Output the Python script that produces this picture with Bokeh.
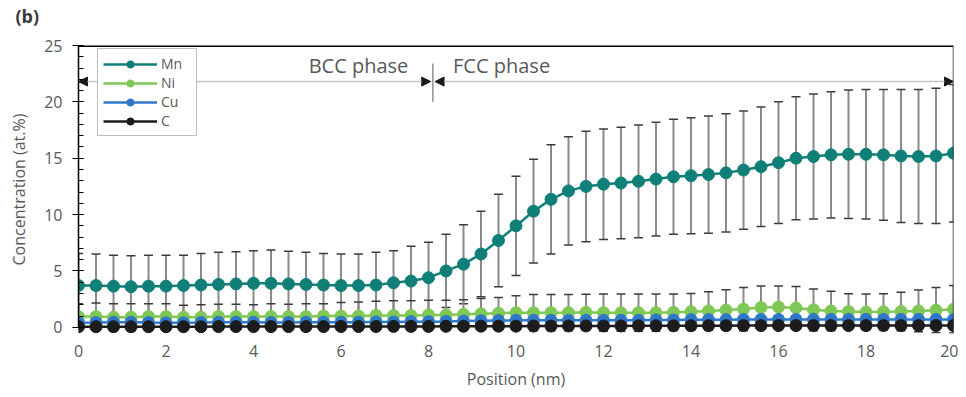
from bokeh.plotting import figure
from bokeh.models import (ColumnDataSource, Whisker, TeeHead, Span, Label, Arrow, Title,
                          NormalHead, Legend, LegendItem, FixedTicker, Range1d)
from bokeh.embed import file_html
from bokeh.resources import INLINE

# ---------------- data ----------------
position = [0.0, 0.4, 0.8, 1.2, 1.6, 2.0, 2.4, 2.8, 3.2, 3.6, 4.0, 4.4, 4.8, 5.2, 5.6,
            6.0, 6.4, 6.8, 7.2, 7.6, 8.0, 8.4, 8.8, 9.2, 9.6, 10.0, 10.4, 10.8, 11.2,
            11.6, 12.0, 12.4, 12.8, 13.2, 13.6, 14.0, 14.4, 14.8, 15.2, 15.6, 16.0,
            16.4, 16.8, 17.2, 17.6, 18.0, 18.4, 18.8, 19.2, 19.6, 20.0]

mn = [3.70, 3.70, 3.65, 3.60, 3.65, 3.65, 3.70, 3.75, 3.80, 3.85, 3.90, 3.90, 3.85, 3.80, 3.75,
      3.70, 3.70, 3.75, 3.95, 4.10, 4.40, 5.00, 5.60, 6.50, 7.70, 9.00, 10.30, 11.35, 12.10,
      12.50, 12.70, 12.80, 12.95, 13.15, 13.35, 13.45, 13.55, 13.70, 13.95, 14.25, 14.60,
      15.00, 15.15, 15.30, 15.35, 15.35, 15.30, 15.20, 15.15, 15.20, 15.45]
mn_err = [2.85, 2.80, 2.75, 2.75, 2.75, 2.75, 2.70, 2.80, 2.85, 2.85, 2.90, 2.95, 2.90, 2.85, 2.80,
          2.80, 2.80, 2.90, 2.85, 3.10, 3.15, 3.25, 3.50, 3.80, 4.10, 4.40, 4.60, 4.85, 4.80,
          4.90, 4.90, 4.95, 5.00, 5.05, 5.10, 5.15, 5.20, 5.25, 5.25, 5.30, 5.40,
          5.45, 5.55, 5.60, 5.70, 5.75, 5.80, 5.90, 5.95, 6.00, 6.10]

ni = [0.95, 0.95, 0.90, 0.90, 0.95, 0.95, 0.90, 0.90, 0.95, 0.95, 0.95, 0.95, 0.95, 0.95, 1.00,
      1.00, 1.00, 1.05, 1.05, 1.05, 1.10, 1.10, 1.15, 1.20, 1.25, 1.30, 1.30, 1.30, 1.30,
      1.33, 1.30, 1.30, 1.30, 1.30, 1.33, 1.38, 1.45, 1.53, 1.62, 1.75, 1.80,
      1.72, 1.55, 1.45, 1.40, 1.35, 1.37, 1.40, 1.45, 1.52, 1.60]
ni_err = [1.15, 1.20, 1.20, 1.20, 1.15, 1.15, 1.05, 1.10, 1.10, 1.10, 1.05, 1.15, 1.10, 1.15, 1.10,
          1.20, 1.25, 1.25, 1.30, 1.30, 1.30, 1.30, 1.30, 1.35, 1.40, 1.50, 1.60, 1.60, 1.60,
          1.60, 1.65, 1.65, 1.65, 1.65, 1.62, 1.62, 1.70, 1.80, 1.92, 1.92, 1.87,
          1.90, 1.85, 1.75, 1.58, 1.60, 1.60, 1.70, 1.85, 2.00, 2.10]

cu = [0.40, 0.42, 0.45, 0.45, 0.42, 0.40, 0.40, 0.42, 0.45, 0.45, 0.45, 0.42, 0.42, 0.45, 0.45,
      0.45, 0.45, 0.48, 0.48, 0.50, 0.50, 0.52, 0.55, 0.58, 0.60, 0.62, 0.62, 0.62, 0.62,
      0.62, 0.62, 0.62, 0.62, 0.65, 0.65, 0.68, 0.68, 0.68, 0.70, 0.70, 0.70,
      0.70, 0.70, 0.70, 0.70, 0.70, 0.70, 0.70, 0.70, 0.70, 0.70]
cu_err = [0.20, 0.20, 0.22, 0.20, 0.20, 0.20, 0.18, 0.20, 0.20, 0.22, 0.20, 0.20, 0.20, 0.20, 0.20,
          0.20, 0.20, 0.22, 0.22, 0.22, 0.22, 0.25, 0.25, 0.25, 0.25, 0.28, 0.28, 0.28, 0.28,
          0.28, 0.28, 0.28, 0.28, 0.30, 0.30, 0.30, 0.30, 0.30, 0.30, 0.30, 0.30,
          0.30, 0.30, 0.30, 0.30, 0.30, 0.30, 0.30, 0.30, 0.30, 0.30]

c = [0.05, 0.05, 0.05, 0.05, 0.05, 0.05, 0.05, 0.05, 0.06, 0.06, 0.06, 0.06, 0.06, 0.06, 0.06,
     0.07, 0.07, 0.07, 0.08, 0.08, 0.08, 0.09, 0.09, 0.10, 0.10, 0.10, 0.11, 0.11, 0.12,
     0.12, 0.12, 0.12, 0.13, 0.13, 0.13, 0.14, 0.14, 0.14, 0.15, 0.15, 0.15,
     0.15, 0.15, 0.15, 0.15, 0.15, 0.15, 0.15, 0.15, 0.15, 0.15]
c_err = [0.10] * 51

x_ticks = [0, 2, 4, 6, 8, 10, 12, 14, 16, 18, 20]
y_ticks = [0, 5, 10, 15, 20, 25]

phase_boundary = 8.1
phase_arrow_level = 21.8
phase_labels = ["BCC phase", "FCC phase"]

# ---------------- figure ----------------
FONT = "Open Sans"
GREY_TEXT = "#595959"

p = figure(width=958, height=392, output_backend="svg", toolbar_location=None,
           x_range=Range1d(0, 20), y_range=Range1d(-0.55, 25),
           min_border_left=78, min_border_right=5, min_border_top=44, min_border_bottom=57)
p.outline_line_color = None
p.background_fill_color = "white"
p.border_fill_color = "white"
p.xgrid.visible = False
p.ygrid.visible = False
p.title.visible = False

# spacer (closest to the frame) and panel tag above it
p.add_layout(Title(text=" ", text_font_size="1px", standoff=14), "above")
p.add_layout(Title(text="(b)", align="left", offset=-63, standoff=2,
                   text_font=FONT, text_font_size="18px", text_font_style="bold",
                   text_color="#3a3a3a"), "above")

# axes
p.xaxis.ticker = FixedTicker(ticks=x_ticks)
p.xaxis.axis_line_color = None
p.xaxis.major_tick_out = 0
p.xaxis.major_tick_in = 0
p.xaxis.minor_tick_out = 0
p.xaxis.minor_tick_in = 0
p.xaxis.major_label_standoff = 11
p.xaxis.axis_label = "Position (nm)"
p.xaxis.axis_label_standoff = 8

p.yaxis.ticker = FixedTicker(ticks=y_ticks, minor_ticks=list(range(0, 26)))
p.yaxis.bounds = (0, 25)
p.yaxis.axis_line_color = "black"
p.yaxis.axis_line_width = 1.5
p.yaxis.major_tick_in = 5
p.yaxis.major_tick_out = 6
p.yaxis.minor_tick_in = 5
p.yaxis.minor_tick_out = 0
p.yaxis.major_tick_line_color = "black"
p.yaxis.minor_tick_line_color = "black"
p.yaxis.major_label_standoff = 10
p.yaxis.axis_label = "Concentration (at.%)"
p.yaxis.axis_label_standoff = 11

for ax in (p.xaxis[0], p.yaxis[0]):
    ax.major_label_text_font = FONT
    ax.major_label_text_font_size = "16px"
    ax.major_label_text_color = GREY_TEXT
    ax.axis_label_text_font = FONT
    ax.axis_label_text_font_size = "16px"
    ax.axis_label_text_font_style = "normal"
    ax.axis_label_text_color = GREY_TEXT

# frame lines (top thick, right thin)
p.add_layout(Span(location=25, dimension="width", line_color="black", line_width=3))
p.add_layout(Span(location=20, dimension="height", line_color="#333333", line_width=1.5))

# ---------------- series ----------------
series = [
    ("Mn", mn, mn_err, "#0f7f78"),
    ("Ni", ni, ni_err, "#80c855"),
    ("Cu", cu, cu_err, "#2f78c8"),
    ("C", c, c_err, "#1c1c1c"),
]

for name, vals, errs, color in series:
    src = ColumnDataSource(data=dict(
        x=position, y=vals,
        upper=[v + e for v, e in zip(vals, errs)],
        lower=[v - e for v, e in zip(vals, errs)],
    ))
    w = Whisker(source=src, base="x", upper="upper", lower="lower",
                line_color="#8a8a8a", line_width=2,
                upper_head=TeeHead(size=9, line_color="#3c3c3c", line_width=1.5),
                lower_head=TeeHead(size=9, line_color="#3c3c3c", line_width=1.5))
    p.add_layout(w)

items = []
for name, vals, errs, color in series:
    src = ColumnDataSource(data=dict(x=position, y=vals))
    lr = p.line("x", "y", source=src, line_color=color, line_width=2.5)
    sr = p.scatter("x", "y", source=src, size=12, fill_color=color, line_color=color)
    items.append(LegendItem(label=name, renderers=[lr, sr]))

legend = Legend(items=items, location=(19, 197), orientation="vertical",
                label_text_font=FONT, label_text_font_size="14px",
                label_text_color=GREY_TEXT, glyph_width=54, glyph_height=18,
                label_height=18, label_width=30, label_standoff=4, spacing=0,
                padding=5, margin=0,
                border_line_color="#7f7f7f", border_line_width=1.5,
                background_fill_color="white", background_fill_alpha=1.0)
p.add_layout(legend, "center")

# ---------------- phase annotations ----------------
ARROW_GREY = "#c3c3c3"
head = lambda: NormalHead(size=9, fill_color="#1a1a1a", line_color="#1a1a1a", line_width=1)
p.add_layout(Arrow(start=head(), end=head(), x_start=0.0, y_start=phase_arrow_level,
                   x_end=phase_boundary - 0.05, y_end=phase_arrow_level,
                   line_color=ARROW_GREY, line_width=1.5, level="underlay"))
p.add_layout(Arrow(start=head(), end=head(), x_start=phase_boundary + 0.05, y_start=phase_arrow_level,
                   x_end=20.0, y_end=phase_arrow_level,
                   line_color=ARROW_GREY, line_width=1.5))
p.segment(x0=[phase_boundary], y0=[20.0], x1=[phase_boundary], y1=[23.4],
          line_color="#8f8f8f", line_width=1.5)

p.add_layout(Label(x=6.4, y=23.25, text=phase_labels[0], text_align="center",
                   text_baseline="middle", text_font=FONT, text_font_size="20px",
                   text_color=GREY_TEXT))
p.add_layout(Label(x=9.67, y=23.25, text=phase_labels[1], text_align="center",
                   text_baseline="middle", text_font=FONT, text_font_size="20px",
                   text_color=GREY_TEXT))

open("out.html", "w").write(file_html(p, INLINE))
